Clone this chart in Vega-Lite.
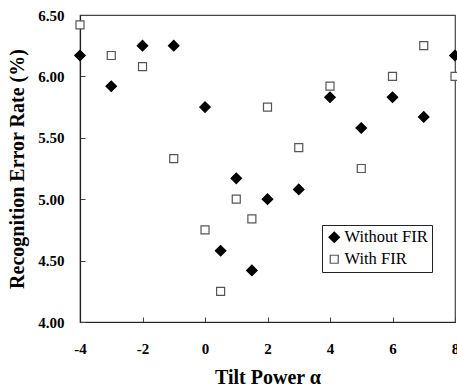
{
  "$schema": "https://vega.github.io/schema/vega-lite/v6.json",
  "width": 375,
  "height": 307,
  "autosize": {"type": "none"},
  "padding": {"left": 80, "top": 15, "right": 2, "bottom": 67},
  "background": "white",
  "config": {
    "view": {"stroke": "#444", "strokeWidth": 1.2},
    "font": "Liberation Serif",
    "legend": {
      "title": null, "orient": "none", "legendX": 242, "legendY": 210,
      "strokeColor": "#222", "fillColor": "white", "padding": 4,
      "labelFont": "Liberation Serif", "labelFontSize": 16.5, "labelColor": "black",
      "rowPadding": 5, "labelOffset": 2, "symbolStrokeWidth": 1.2
    }
  },
  "data": {
    "values": [
      {"alpha": -4, "rate": 6.17, "series": "Without FIR"},
      {"alpha": -3, "rate": 5.92, "series": "Without FIR"},
      {"alpha": -2, "rate": 6.25, "series": "Without FIR"},
      {"alpha": -1, "rate": 6.25, "series": "Without FIR"},
      {"alpha": 0, "rate": 5.75, "series": "Without FIR"},
      {"alpha": 0.5, "rate": 4.58, "series": "Without FIR"},
      {"alpha": 1, "rate": 5.17, "series": "Without FIR"},
      {"alpha": 1.5, "rate": 4.42, "series": "Without FIR"},
      {"alpha": 2, "rate": 5.0, "series": "Without FIR"},
      {"alpha": 3, "rate": 5.08, "series": "Without FIR"},
      {"alpha": 4, "rate": 5.83, "series": "Without FIR"},
      {"alpha": 5, "rate": 5.58, "series": "Without FIR"},
      {"alpha": 6, "rate": 5.83, "series": "Without FIR"},
      {"alpha": 7, "rate": 5.67, "series": "Without FIR"},
      {"alpha": 8, "rate": 6.17, "series": "Without FIR"},
      {"alpha": -4, "rate": 6.42, "series": "With FIR"},
      {"alpha": -3, "rate": 6.17, "series": "With FIR"},
      {"alpha": -2, "rate": 6.08, "series": "With FIR"},
      {"alpha": -1, "rate": 5.33, "series": "With FIR"},
      {"alpha": 0, "rate": 4.75, "series": "With FIR"},
      {"alpha": 0.5, "rate": 4.25, "series": "With FIR"},
      {"alpha": 1, "rate": 5.0, "series": "With FIR"},
      {"alpha": 1.5, "rate": 4.84, "series": "With FIR"},
      {"alpha": 2, "rate": 5.75, "series": "With FIR"},
      {"alpha": 3, "rate": 5.42, "series": "With FIR"},
      {"alpha": 4, "rate": 5.92, "series": "With FIR"},
      {"alpha": 5, "rate": 5.25, "series": "With FIR"},
      {"alpha": 6, "rate": 6.0, "series": "With FIR"},
      {"alpha": 7, "rate": 6.25, "series": "With FIR"},
      {"alpha": 8, "rate": 6.0, "series": "With FIR"}
    ]
  },
  "mark": {"type": "point", "filled": false, "opacity": 1, "strokeWidth": 1.2, "clip": false},
  "encoding": {
    "x": {
      "field": "alpha", "type": "quantitative",
      "scale": {"domain": [-4, 8], "nice": false, "zero": false},
      "axis": {
        "title": "Tilt Power α", "titleFont": "Liberation Serif", "titleFontSize": 20, "titleFontWeight": "bold", "titleColor": "black", "titlePadding": 11,
        "values": [-4, -2, 0, 2, 4, 6, 8], "labelExpr": "'' + datum.value",
        "labelFont": "Liberation Serif", "labelFontSize": 15, "labelFontWeight": "bold", "labelColor": "black", "labelPadding": 24,
        "labelFlush": false,
        "tickSize": -5, "tickColor": "#444", "domainColor": "#222", "domainWidth": 1.2, "grid": false
      }
    },
    "y": {
      "field": "rate", "type": "quantitative",
      "scale": {"domain": [4, 6.5], "nice": false, "zero": false},
      "axis": {
        "title": "Recognition Error Rate (%)", "titleFont": "Liberation Serif", "titleFontSize": 20, "titleFontWeight": "bold", "titleColor": "black", "titlePadding": 10,
        "values": [4, 4.5, 5, 5.5, 6, 6.5], "format": ".2f",
        "labelFont": "Liberation Serif", "labelFontSize": 15, "labelFontWeight": "bold", "labelColor": "black", "labelPadding": 21,
        "labelFlush": false,
        "tickSize": -5, "tickColor": "#444", "domainColor": "#222", "domainWidth": 1.2, "grid": false
      }
    },
    "shape": {
      "field": "series", "type": "nominal",
      "scale": {"domain": ["Without FIR", "With FIR"], "range": ["diamond", "square"]}
    },
    "fill": {
      "field": "series", "type": "nominal",
      "scale": {"domain": ["Without FIR", "With FIR"], "range": ["black", "white"]}
    },
    "stroke": {
      "field": "series", "type": "nominal",
      "scale": {"domain": ["Without FIR", "With FIR"], "range": ["black", "#555"]}
    },
    "size": {
      "field": "series", "type": "nominal",
      "scale": {"domain": ["Without FIR", "With FIR"], "range": [110, 64]}
    }
  }
}
